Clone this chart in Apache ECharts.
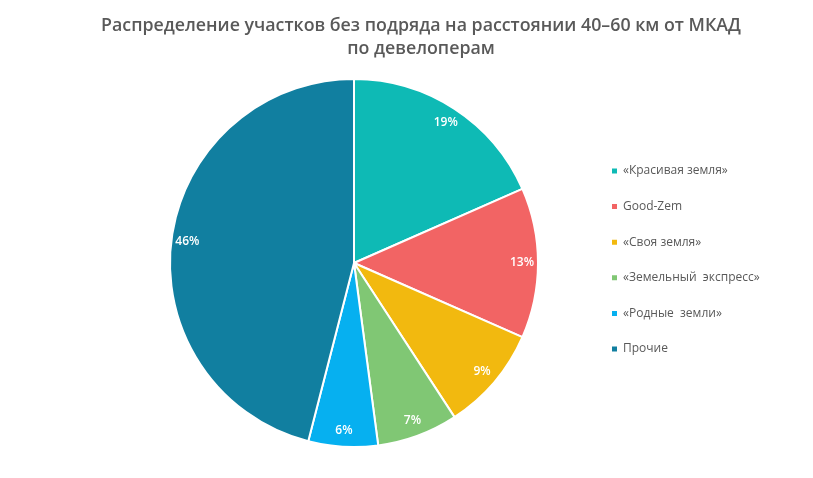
<!DOCTYPE html>
<html><head><meta charset="utf-8">
<script src="https://cdn.jsdelivr.net/npm/echarts@6/dist/echarts.min.js"></script>
<style>html,body{margin:0;padding:0;background:#fff}#c{width:813px;height:478px}</style>
</head><body><div id="c"></div>
<script>
const categories = ['«Красивая земля»','Good-Zem','«Своя земля»','«Земельный  экспресс»','«Родные  земли»','Прочие'];
const values = [18.4,13.2,9.2,7.1,6.1,46.0];
const labelTexts = ['19%','13%','9%','7%','6%','46%'];
const colors = ['#0EBAB5','#F26464','#F2B90F','#80C774','#06B0F0','#117FA0'];
const titleText = 'Распределение участков без подряда на расстоянии 40–60 км от МКАД\nпо девелоперам';

const font = '"Open Sans", "Noto Sans", sans-serif';
const data = categories.map((n,i)=>({name:n,value:values[i]}));
const chart = echarts.init(document.getElementById('c'));
chart.setOption({
  animation:false,
  color: colors,
  title:{text:titleText,left:416,textAlign:'center',top:9,
    textStyle:{fontFamily:font,fontSize:17.8,fontWeight:600,color:'#595959',lineHeight:23}},
  legend:{orient:'vertical',left:605,top:160,itemWidth:7,itemHeight:7,icon:'rect',itemGap:23.6,
    data:categories,
    textStyle:{fontFamily:font,fontSize:12,color:'#595959'}},
  series:[
    {type:'pie',center:[354,263],radius:[0,184],startAngle:90,clockwise:true,
     itemStyle:{borderColor:'#fff',borderWidth:2},
     label:{show:false},labelLine:{show:false},data:data},
    {type:'pie',center:[354,263],radius:[146,184],startAngle:90,clockwise:true,silent:true,
     itemStyle:{color:'transparent',borderWidth:0},
     label:{show:true,position:'inside',formatter:p=>labelTexts[p.dataIndex],color:'#fff',fontFamily:font,fontSize:12,fontWeight:600},
     labelLine:{show:false},data:data}
  ]
});
</script></body></html>
